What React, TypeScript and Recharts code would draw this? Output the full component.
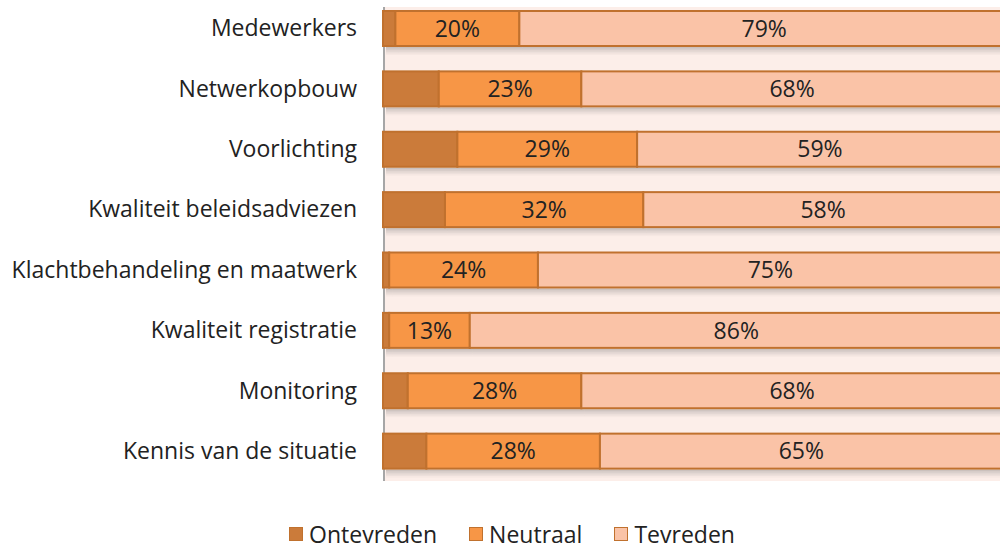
import { Bar, BarChart, LabelList, Legend, XAxis, YAxis } from "recharts";

const categories = [
  "Medewerkers",
  "Netwerkopbouw",
  "Voorlichting",
  "Kwaliteit beleidsadviezen",
  "Klachtbehandeling en maatwerk",
  "Kwaliteit registratie",
  "Monitoring",
  "Kennis van de situatie",
];
const ontevreden = [2, 9, 12, 10, 1, 1, 4, 7];
const neutraal = [20, 23, 29, 32, 24, 13, 28, 28];
const tevreden = [79, 68, 59, 58, 75, 86, 68, 65];

const data = categories.map((name, i) => ({
  name,
  ontevreden: ontevreden[i],
  neutraal: neutraal[i],
  tevreden: tevreden[i],
}));

const FONT = "'Open Sans', sans-serif";
const BORDER = "#C0712E";

const legendItems = [
  { label: "Ontevreden", color: "#CB7B3A" },
  { label: "Neutraal", color: "#F79646" },
  { label: "Tevreden", color: "#FAC3A7" },
];

function ChartLegend() {
  return (
    <div style={{ display: "flex", justifyContent: "center", gap: 32, fontFamily: FONT, fontSize: 23, color: "#222" }}>
      {legendItems.map((item) => (
        <div key={item.label} style={{ display: "flex", alignItems: "center", gap: 6 }}>
          <span
            style={{
              display: "inline-block",
              width: 14,
              height: 14,
              background: item.color,
              border: `1px solid ${BORDER}`,
              boxSizing: "border-box",
            }}
          />
          <span>{item.label}</span>
        </div>
      ))}
    </div>
  );
}

// soft shadow under each segment, built from fading strips
const shadowSteps = [0.3, 0.22, 0.15, 0.09, 0.04];

function renderShadowRect(props: any) {
  const x0 = Number(props.x);
  const y0 = Number(props.y);
  const w0 = Number(props.width);
  const h0 = Number(props.height);
  const left = Math.min(x0, x0 + w0);
  const top = Math.min(y0, y0 + h0);
  const w = Math.abs(w0);
  const h = Math.abs(h0);
  if (!(w > 0) || !(h > 0)) return <g />;
  return (
    <g>
      {shadowSteps.map((op, k) => (
        <rect
          key={k}
          x={left + 3}
          y={top + h + 1 + k * 1.6}
          width={w}
          height={1.6}
          fill="#5a5a5a"
          fillOpacity={op}
        />
      ))}
      <rect x={left} y={top} width={w} height={h} fill={props.fill} stroke={BORDER} strokeWidth={2} />
    </g>
  );
}

const pct = (v: unknown) => `${v}%`;

export default function App() {
  return (
    <div
      style={{
        position: "absolute",
        left: 0,
        top: 0,
        width: 1000,
        height: 545,
        overflow: "hidden",
        background: "#fff",
      }}
    >
      {/* plot background and axis line */}
      <div
        style={{
          position: "absolute",
          left: 383,
          top: 7,
          width: 617,
          height: 474,
          background: "#FCEEE9",
          borderLeft: "2px solid #A6A6A6",
          boxSizing: "border-box",
        }}
      />
      <div style={{ position: "absolute", left: 0, top: -2 }}>
        <BarChart
          width={1011}
          height={547}
          data={data}
          layout="vertical"
          margin={{ top: 0, right: 2, bottom: 64, left: 0 }}
          barSize={35}
        >
          <XAxis type="number" domain={[0, "dataMax"]} hide />
          <YAxis
            type="category"
            dataKey="name"
            width={383}
            axisLine={false}
            tickLine={false}
            tickSize={0}
            tickMargin={26}
            interval={0}
            tick={{ fontFamily: FONT, fontSize: 23, fill: "#222" }}
          />
          <Legend
            verticalAlign="middle"
            content={() => <ChartLegend />}
            wrapperStyle={{ top: 520, left: 12, width: 1000 }}
          />
          <Bar
            dataKey="ontevreden"
            name="Ontevreden"
            stackId="a"
            fill="#CB7B3A"
            shape={(p: any) => renderShadowRect(p)}
            isAnimationActive={false}
          />
          <Bar
            dataKey="neutraal"
            name="Neutraal"
            stackId="a"
            fill="#F79646"
            shape={(p: any) => renderShadowRect(p)}
            isAnimationActive={false}
          >
            <LabelList dataKey="neutraal" position="center" formatter={pct} fill="#222" fontFamily={FONT} fontSize={23} />
          </Bar>
          <Bar
            dataKey="tevreden"
            name="Tevreden"
            stackId="a"
            fill="#FAC3A7"
            shape={(p: any) => renderShadowRect(p)}
            isAnimationActive={false}
          >
            <LabelList dataKey="tevreden" position="center" formatter={pct} fill="#222" fontFamily={FONT} fontSize={23} />
          </Bar>
        </BarChart>
      </div>
    </div>
  );
}
